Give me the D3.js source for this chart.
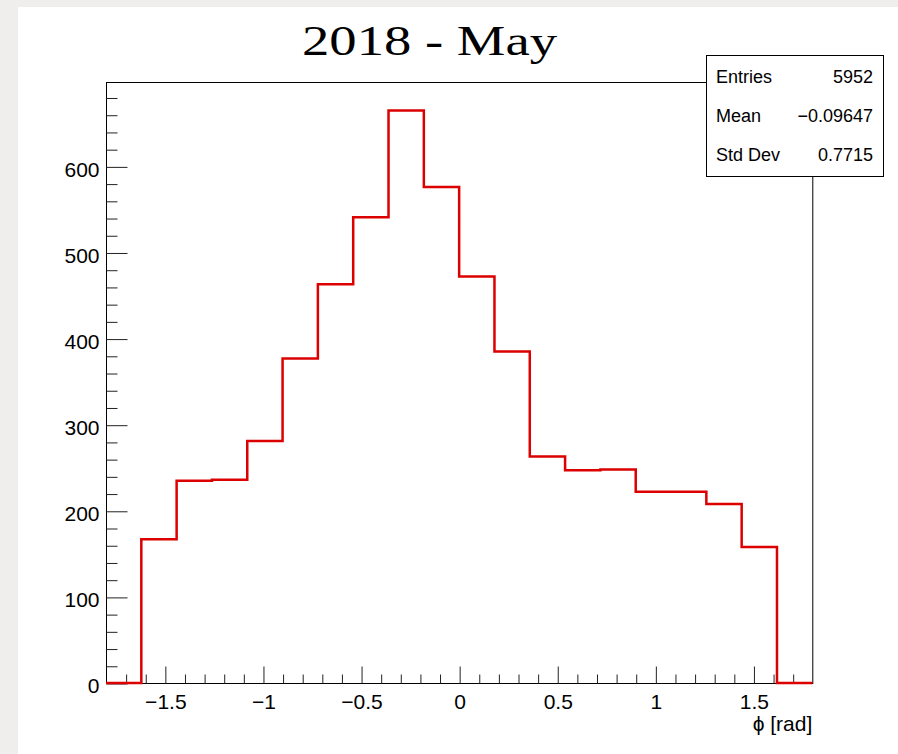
<!DOCTYPE html>
<html>
<head>
<meta charset="utf-8">
<script src="https://cdn.jsdelivr.net/npm/d3@7"></script>
<style>
  html, body { margin: 0; padding: 0; background: #efeeec; }
  svg { display: block; }
</style>
</head>
<body>
<script>
// histogram bins (low edges) and counts
const binLow = [-1.8, -1.62, -1.44, -1.26, -1.08, -0.9, -0.72, -0.54, -0.36, -0.18,
                0, 0.18, 0.36, 0.54, 0.72, 0.9, 1.08, 1.26, 1.44, 1.62];
const binWidth = 0.18;
const counts = [0, 167, 235, 236, 281, 377, 463, 541, 665, 576,
                472, 385, 263, 247, 248, 222, 222, 208, 158, 0];

const xMajor = [-1.5, -1, -0.5, 0, 0.5, 1, 1.5];
const xMinor = [-1.7, -1.6, -1.4, -1.3, -1.2, -1.1, -0.9, -0.8, -0.7, -0.6, -0.4, -0.3, -0.2, -0.1,
                0.1, 0.2, 0.3, 0.4, 0.6, 0.7, 0.8, 0.9, 1.1, 1.2, 1.3, 1.4, 1.6, 1.7];
const yMajor = [0, 100, 200, 300, 400, 500, 600];
const yMinor = [20, 40, 60, 80, 120, 140, 160, 180, 220, 240, 260, 280, 320, 340, 360, 380,
                420, 440, 460, 480, 520, 540, 560, 580, 620, 640, 660, 680];

const statLabels = ["Entries", "Mean", "Std Dev"];
const statValues = ["5952", "\u22120.09647", "0.7715"];

const W = 898, H = 754;
const frame = { left: 106, right: 812.3, top: 82, bottom: 683 };
const sans = "'Liberation Sans', Arial, Helvetica, sans-serif";

const svg = d3.select("body").append("svg")
  .attr("width", W)
  .attr("height", H);

// outer gray + white page
svg.append("rect").attr("width", W).attr("height", H).attr("fill", "#efeeec");
svg.append("rect").attr("x", 18).attr("y", 7).attr("width", W - 18).attr("height", H - 7).attr("fill", "#ffffff");

const x = d3.scaleLinear().domain([-1.8, 1.8]).range([frame.left, frame.right]);
const y = d3.scaleLinear().domain([0, 698]).range([frame.bottom, frame.top]);

// frame
svg.append("rect")
  .attr("x", frame.left + 0.5)
  .attr("y", frame.top + 0.5)
  .attr("width", frame.right - frame.left)
  .attr("height", frame.bottom - frame.top)
  .attr("fill", "none")
  .attr("stroke", "#000")
  .attr("stroke-width", 1);

// y axis (ticks point inward)
const gy = svg.append("g")
  .attr("transform", `translate(${frame.left + 0.5},0.5)`)
  .call(d3.axisLeft(y).tickValues(yMajor).tickSizeInner(-21).tickSizeOuter(0).tickPadding(7)
    .tickFormat(d3.format("~g")));
gy.select(".domain").remove();
gy.selectAll("text").attr("dy", "0.45em").style("font-family", sans).style("font-size", "21px").attr("fill", "#000");
gy.selectAll("line").attr("stroke", "#222");

const gy2 = svg.append("g")
  .attr("transform", `translate(${frame.left + 0.5},0.5)`)
  .call(d3.axisLeft(y).tickValues(yMinor).tickSizeInner(-11).tickSizeOuter(0).tickFormat(""));
gy2.select(".domain").remove();
gy2.selectAll("line").attr("stroke", "#222");

// x axis (ticks point inward)
const gx = svg.append("g")
  .attr("transform", `translate(0.5,${frame.bottom + 0.5})`)
  .call(d3.axisBottom(x).tickValues(xMajor).tickSizeInner(-17).tickSizeOuter(0).tickPadding(11)
    .tickFormat(d3.format("~g")));
gx.select(".domain").remove();
gx.selectAll("text").style("font-family", sans).style("font-size", "21px").attr("fill", "#000");
gx.selectAll("line").attr("stroke", "#222");

const gx2 = svg.append("g")
  .attr("transform", `translate(0.5,${frame.bottom + 0.5})`)
  .call(d3.axisBottom(x).tickValues(xMinor).tickSizeInner(-9).tickSizeOuter(0).tickFormat(""));
gx2.select(".domain").remove();
gx2.selectAll("line").attr("stroke", "#222");

// histogram outline
const pts = [];
binLow.forEach((lo, i) => {
  pts.push([x(lo), y(counts[i])]);
  pts.push([x(lo + binWidth), y(counts[i])]);
});
svg.append("path")
  .attr("d", d3.line()(pts))
  .attr("fill", "none")
  .attr("stroke", "#dc0000")
  .attr("stroke-width", 2.5)
  .attr("stroke-linejoin", "miter");

// axis title
svg.append("text")
  .attr("x", frame.right)
  .attr("y", 731)
  .attr("text-anchor", "end")
  .style("font-family", sans)
  .style("font-size", "21px")
  .text("\u03d5 [rad]");

// title
svg.append("text")
  .attr("x", 302)
  .attr("y", 55)
  .attr("textLength", 255)
  .attr("lengthAdjust", "spacingAndGlyphs")
  .style("font-family", "'Liberation Serif', 'Times New Roman', serif")
  .style("font-size", "42px")
  .attr("fill", "#000")
  .text("2018 - May");

// stats box
const box = { x: 706, y: 55, w: 177, h: 121 };
svg.append("rect")
  .attr("x", box.x + 0.5).attr("y", box.y + 0.5)
  .attr("width", box.w).attr("height", box.h)
  .attr("fill", "#fff").attr("stroke", "#000").attr("stroke-width", 1);

const rowY = [83, 122, 161];
statLabels.forEach((lab, i) => {
  svg.append("text")
    .attr("x", 716).attr("y", rowY[i])
    .style("font-family", sans).style("font-size", "18px")
    .text(lab);
  svg.append("text")
    .attr("x", 873).attr("y", rowY[i])
    .attr("text-anchor", "end")
    .style("font-family", sans).style("font-size", "18px")
    .text(statValues[i]);
});
</script>
</body>
</html>
